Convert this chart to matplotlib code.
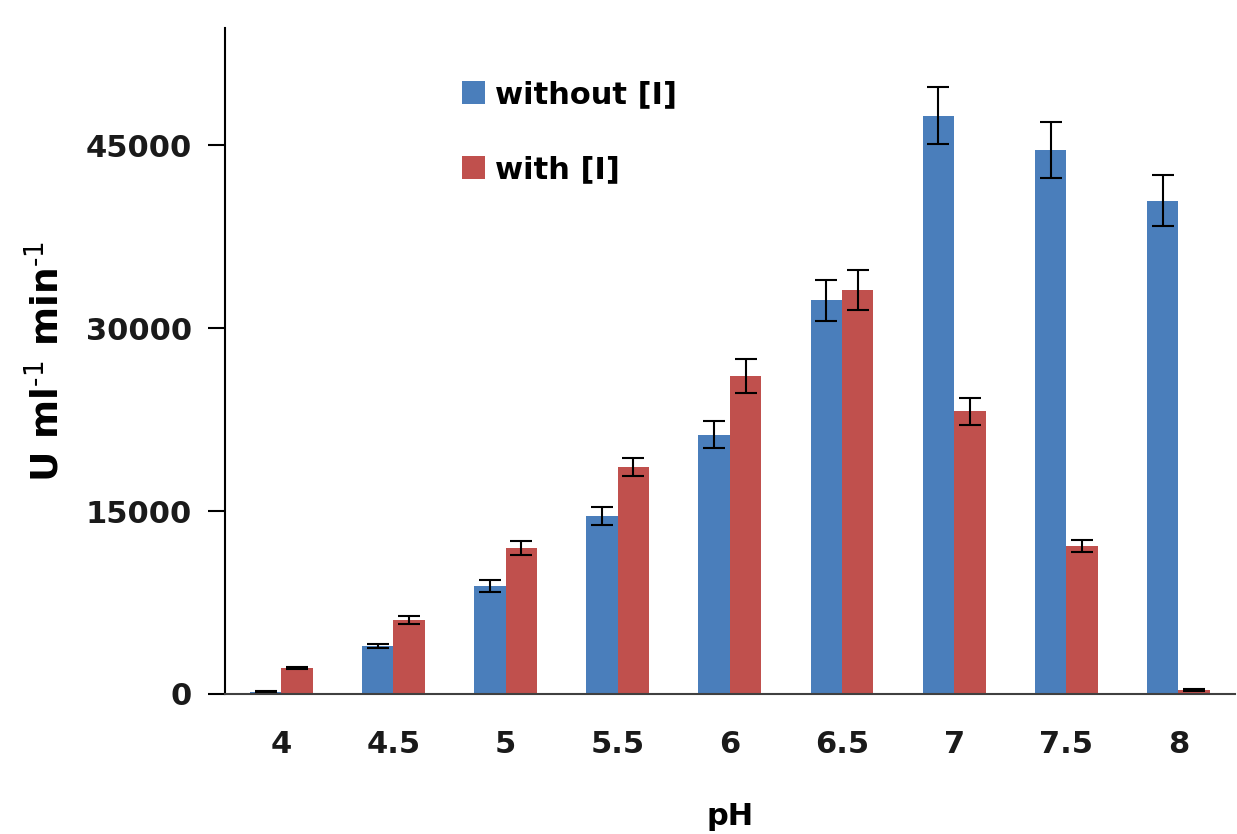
import matplotlib
matplotlib.use('Agg')
import matplotlib.pyplot as plt
import numpy as np

# pH values and enzyme activity
ph_labels = ['4', '4.5', '5', '5.5', '6', '6.5', '7', '7.5', '8']
without_i = [160, 3930, 8850, 14600, 21250, 32300, 47450, 44600, 40450]
without_i_err = [80, 200, 490, 740, 1100, 1680, 2340, 2300, 2100]
with_i = [2130, 6070, 11970, 18600, 26070, 33100, 23200, 12130, 330]
with_i_err = [100, 330, 570, 740, 1390, 1640, 1100, 530, 80]
y_ticks = [0, 15000, 30000, 45000]

blue = '#4A7EBB'
red = '#C0504D'

plt.rcParams['mathtext.default'] = 'bf'

fig = plt.figure(figsize=(12.37, 8.34), dpi=100)
ax = fig.add_axes([0.182, 0.168, 0.816, 0.798])

x = np.arange(len(ph_labels))
w = 0.28
err_kw = dict(ecolor='black', elinewidth=1.5, capsize=8, capthick=1.5)
ax.bar(x - w / 2, without_i, w, yerr=without_i_err, color=blue,
       label='without [I]', error_kw=err_kw)
ax.bar(x + w / 2, with_i, w, yerr=with_i_err, color=red,
       label='with [I]', error_kw=err_kw)

ax.set_xlim(-0.5, len(ph_labels) - 0.5)
ax.set_ylim(0, 54600)
ax.set_xticks(x)
ax.set_xticklabels(ph_labels)
ax.set_yticks(y_ticks)
ax.set_yticklabels([str(v) for v in y_ticks])

for s in ['top', 'right']:
    ax.spines[s].set_visible(False)
ax.spines['left'].set_linewidth(1.5)
ax.spines['bottom'].set_linewidth(1.5)
ax.spines['bottom'].set_color('#404040')

ax.tick_params(axis='x', length=0, pad=26, labelsize=22)
ax.tick_params(axis='y', direction='out', length=12, width=1.5, pad=12, labelsize=22)
for lab in ax.get_xticklabels() + ax.get_yticklabels():
    lab.set_fontweight('bold')
    lab.set_color('#1a1a1a')

ax.set_xlabel('pH', fontsize=22, fontweight='bold', labelpad=31)
ax.set_ylabel(r'U ml$^{\text{-1}}$ min$^{\text{-1}}$', fontsize=27,
              fontweight='bold', labelpad=14)

leg = ax.legend(loc='upper left', bbox_to_anchor=(0.22, 0.945), frameon=False,
                fontsize=22, handlelength=0.75, handleheight=0.75,
                handletextpad=0.3, labelspacing=1.5, borderpad=0)
for t in leg.get_texts():
    t.set_fontweight('bold')

fig.savefig('out.png', dpi=100)
